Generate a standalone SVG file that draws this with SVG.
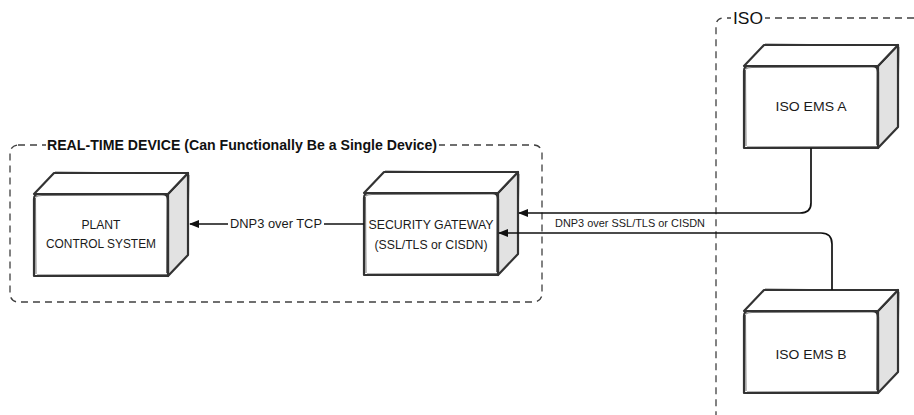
<svg xmlns="http://www.w3.org/2000/svg" xmlns:xlink="http://www.w3.org/1999/xlink" width="914" height="415" viewBox="0 0 914 415">
<style>
.cont{fill:none;stroke:#404040;stroke-width:1.3;stroke-dasharray:7 5}
.face{stroke:#333333;stroke-width:2.2;stroke-linejoin:round}
.sk{fill:none;stroke:#333333;stroke-width:0.9;opacity:0.75}
.lbl{font-family:"Liberation Sans",Arial,sans-serif;font-size:12.5px;fill:#1a1a1a;text-anchor:middle;dominant-baseline:central}
.conn{fill:none;stroke:#111111;stroke-width:1.7}
.clbl{font-family:"Liberation Sans",Arial,sans-serif;fill:#1a1a1a;dominant-baseline:central}
</style>
<defs>
<marker id="arr" markerWidth="10" markerHeight="8" refX="9" refY="4" orient="auto" markerUnits="userSpaceOnUse">
<path d="M0,0 L10,4 L0,8 Z" fill="#111111"/>
</marker>
<g id="box">
<path class="face" d="M134,0 L154,-21 L154,61 L134,82 Z" fill="#e2e2e2"/>
<path class="face" d="M0,0 L20,-21 L154,-21 L134,0 Z" fill="#ffffff"/>
<path class="face" d="M5,0 L128,0 Q134,0 134,6 L134,82 L0,82 L0,5 Q0,0 5,0 Z" fill="#ffffff"/>
<path class="sk" d="M2,3 Q3,1.5 8,1.5 L131,1 M1.5,4 L2,80 M3,81 L133,80.5 M133,3 L132.5,79 M21,-22 L153,-20.5 M155,-19 L153.5,62"/>
</g>
</defs>
<rect width="914" height="415" fill="#ffffff"/>
<g id="real-time-device">
<rect class="cont" x="10" y="145" width="532" height="157" rx="8"/>
<rect x="46" y="136" width="393" height="18" fill="#ffffff"/>
<text x="47" y="145" font-family="'Liberation Sans',Arial,sans-serif" font-size="14" font-weight="bold" fill="#111" dominant-baseline="central" textLength="390" lengthAdjust="spacingAndGlyphs">REAL-TIME DEVICE (Can Functionally Be a Single Device)</text>
</g>
<g id="iso">
<path class="cont" d="M914,18 L724,18 Q716,18 716,26 L716,420"/>
<rect x="731" y="8" width="34" height="20" fill="#ffffff"/>
<text x="733" y="18" font-family="'Liberation Sans',Arial,sans-serif" font-size="17" fill="#111" dominant-baseline="central" textLength="30" lengthAdjust="spacingAndGlyphs">ISO</text>
</g>
<g id="plant-control-system">
<use xlink:href="#box" transform="translate(34,194)"/>
<text class="lbl" x="101" y="225" textLength="39" lengthAdjust="spacingAndGlyphs">PLANT</text>
<text class="lbl" x="101" y="244" textLength="110" lengthAdjust="spacingAndGlyphs">CONTROL SYSTEM</text>
</g>
<g id="security-gateway">
<use xlink:href="#box" transform="translate(364,193)"/>
<text class="lbl" x="431" y="225" textLength="125" lengthAdjust="spacingAndGlyphs">SECURITY GATEWAY</text>
<text class="lbl" x="431" y="245" textLength="113" lengthAdjust="spacingAndGlyphs">(SSL/TLS or CISDN)</text>
</g>
<g id="iso-ems-a">
<use xlink:href="#box" transform="translate(744,66)"/>
<text class="lbl" x="811" y="107" font-size="14" textLength="71" lengthAdjust="spacingAndGlyphs">ISO EMS A</text>
</g>
<g id="iso-ems-b">
<use xlink:href="#box" transform="translate(744,311)"/>
<text class="lbl" x="811" y="355" font-size="14" textLength="71" lengthAdjust="spacingAndGlyphs">ISO EMS B</text>
</g>
<g id="connectors">
<path class="conn" d="M364,224 L190,224" marker-end="url(#arr)" stroke-width="2"/>
<rect x="228" y="215" width="96" height="18" fill="#ffffff"/>
<text class="clbl" x="230" y="224" font-size="12.5" textLength="92" lengthAdjust="spacingAndGlyphs">DNP3 over TCP</text>
<path class="conn" d="M811,148 L811,203 Q811,213 800,213 L519,213" marker-end="url(#arr)"/>
<path class="conn" d="M832,290 L832,244 Q832,233 821,233 L499,233" marker-end="url(#arr)"/>
<text class="clbl" x="555" y="223" font-size="11" textLength="150" lengthAdjust="spacingAndGlyphs">DNP3 over SSL/TLS or CISDN</text>
</g>
</svg>
